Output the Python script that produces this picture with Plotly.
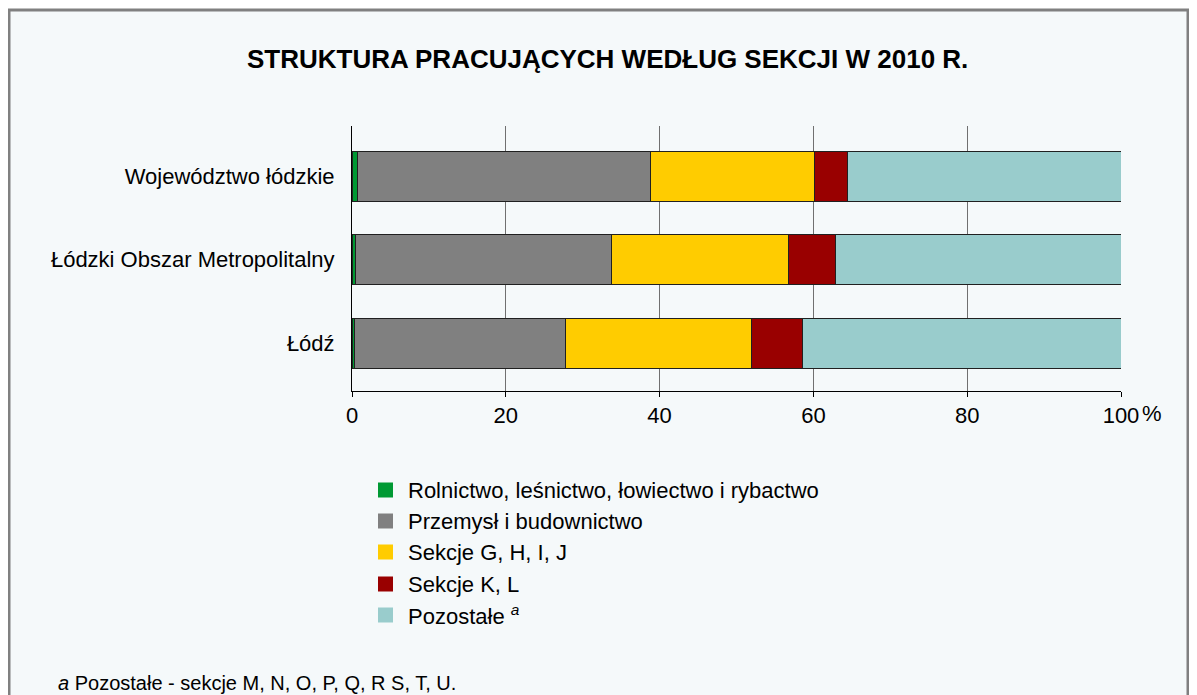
import plotly.graph_objects as go

# ---- data ----
categories = ["Łódź", "Łódzki Obszar Metropolitalny", "Województwo łódzkie"]
series_names = [
    "Rolnictwo, leśnictwo, łowiectwo i rybactwo",
    "Przemysł i budownictwo",
    "Sekcje G, H, I, J",
    "Sekcje K, L",
    "Pozostałe <i><sup>a</sup></i>",
]
rolnictwo = [0.3, 0.5, 0.7]
przemysl = [27.4, 33.3, 38.1]
sekcje_ghij = [24.2, 23.0, 21.4]
sekcje_kl = [6.7, 6.1, 4.2]
pozostale = [41.4, 37.1, 35.6]
series_values = [rolnictwo, przemysl, sekcje_ghij, sekcje_kl, pozostale]
colors = ["#009933", "#808080", "#FFCC00", "#990000", "#99CCCC"]
x_ticks = [0, 20, 40, 60, 80, 100]

FONT = "Liberation Sans, Arial, sans-serif"
BG = "#F5F9FA"
OFF = 8  # page body margin

fig = go.Figure()
for name, vals, col in zip(series_names, series_values, colors):
    fig.add_trace(go.Bar(
        y=categories, x=vals, name=name, orientation="h",
        marker=dict(color=col, line=dict(color="#202020", width=1)),
        width=0.6, showlegend=False,
    ))

# plot area in window pixels: x 352..1121, y 126..391
L, R, T, B = 352, 1121, 126, 391
W, H = 1197 - OFF, 695 - OFF
pw, ph = R - L, B - T

def px(xp):
    return (xp - L) / pw

def py(yp):
    return (B - yp) / ph

shapes = [
    dict(type="rect", xref="paper", yref="paper", layer="below",
         x0=px(9), x1=px(1188), y0=py(10), y1=py(760),
         fillcolor=BG, line=dict(color="#808080", width=3)),
]
annotations = [
    dict(text="<b>STRUKTURA PRACUJĄCYCH WEDŁUG SEKCJI W 2010 R.</b>",
         xref="paper", yref="paper", x=px(607), y=py(59),
         showarrow=False, font=dict(family=FONT, size=26, color="#000000"),
         xanchor="center", yanchor="middle"),
    dict(text="%", xref="paper", yref="paper", x=px(1140), y=py(413),
         showarrow=False, font=dict(family=FONT, size=22, color="#000000"),
         xanchor="left", yanchor="middle"),
    dict(text="<i>a</i> Pozostałe - sekcje M, N, O, P, Q, R S, T, U.",
         xref="paper", yref="paper", x=px(56), y=py(683),
         showarrow=False, font=dict(family=FONT, size=20, color="#000000"),
         xanchor="left", yanchor="middle"),
]

# custom legend
leg_y = [490, 521, 552, 584, 615]
for name, col, ly in zip(series_names, colors, leg_y):
    shapes.append(dict(type="rect", xref="paper", yref="paper",
                       x0=px(378), x1=px(393), y0=py(ly - 7.5), y1=py(ly + 7.5),
                       fillcolor=col, line=dict(width=0)))
    annotations.append(dict(text=name, xref="paper", yref="paper",
                            x=px(406), y=py(ly), showarrow=False,
                            font=dict(family=FONT, size=22, color="#000000"),
                            xanchor="left", yanchor="middle"))

fig.update_layout(
    barmode="stack",
    width=W, height=H,
    margin=dict(l=L - OFF, r=1197 - R, t=T - OFF, b=695 - B, pad=0),
    paper_bgcolor="#FFFFFF",
    plot_bgcolor=BG,
    font=dict(family=FONT, size=22, color="#000000"),
    shapes=shapes,
    annotations=annotations,
    bargap=0.4,
)
fig.update_xaxes(
    range=[0, 100], tickvals=x_ticks, ticktext=[str(v) for v in x_ticks],
    showgrid=True, gridcolor="#707070", gridwidth=1,
    showline=True, linecolor="#000000", linewidth=1,
    ticks="outside", ticklen=5, tickcolor="#000000",
    tickfont=dict(family=FONT, size=22), zeroline=False,
    fixedrange=True,
)
fig.update_yaxes(
    range=[-0.57, 2.6], showgrid=False,
    showline=True, linecolor="#000000", linewidth=1,
    ticks="", ticklabelstandoff=12,
    tickfont=dict(family=FONT, size=22), fixedrange=True,
)

fig.write_html("out.html")
